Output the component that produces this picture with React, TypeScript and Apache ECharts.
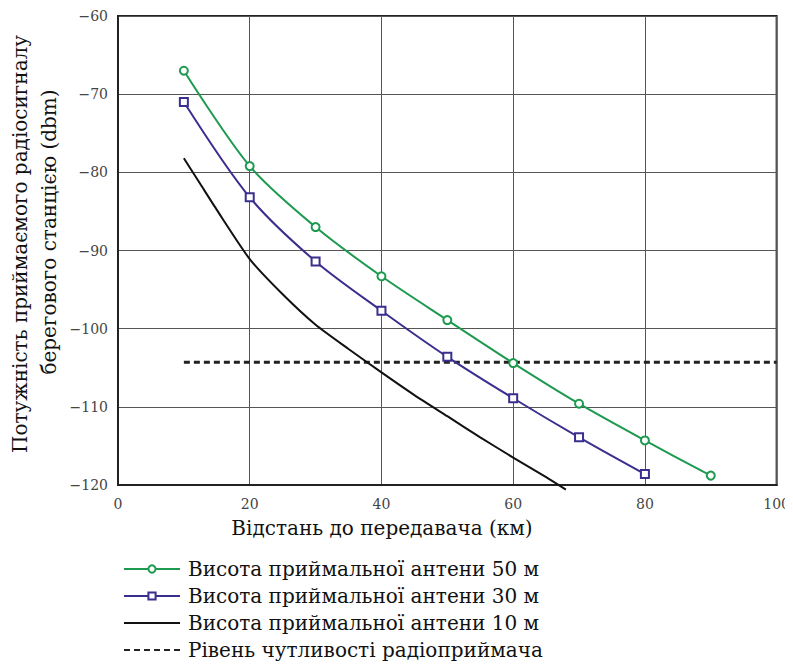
import React, { useEffect, useRef } from "react";
import * as echarts from "echarts";

const FONT = "DejaVu Serif";

const seriesNames = [
  "Висота приймальної антени 50 м",
  "Висота приймальної антени 30 м",
  "Висота приймальної антени 10 м",
  "Рівень чутливості радіоприймача",
];

const dist50 = [10, 20, 30, 40, 50, 60, 70, 80, 90];
const power50 = [-67.0, -79.2, -87.0, -93.3, -98.9, -104.4, -109.6, -114.3, -118.8];

const dist30 = [10, 20, 30, 40, 50, 60, 70, 80];
const power30 = [-71.0, -83.2, -91.4, -97.7, -103.6, -108.9, -113.9, -118.6];

const dist10 = [10, 12.5, 15, 20, 25, 30, 35, 40, 45, 50, 55, 60, 65, 68];
const power10 = [-78.2, -81.5, -84.8, -91.1, -95.6, -99.5, -102.6, -105.6, -108.5, -111.2, -113.9, -116.5, -119.0, -120.6];

const sensDist = [10, 100];
const sensLevel = [-104.3, -104.3];

const xTicks = { min: 0, max: 100, interval: 20 };
const yTicks = { min: -120, max: -60, interval: 10 };

const xTitle = "Відстань до передавача (км)";
const yTitle1 = "Потужність приймаємого радіосигналу";
const yTitle2 = "берегового станцією (dbm)";

const pairs = (xs: number[], ys: number[]) => xs.map((x, i) => [x, ys[i]]);

export default function App() {
  const ref = useRef<HTMLDivElement>(null);
  useEffect(() => {
    if (!ref.current) return;
    const chart = echarts.init(ref.current, undefined, { renderer: "svg" });
    chart.setOption({
      animation: false,
      backgroundColor: "#fff",
      grid: {
        left: 110,
        right: 15,
        top: 8,
        bottom: 179,
        show: true,
        borderColor: "#222",
        borderWidth: 2,
        containLabel: false,
      },
      xAxis: {
        type: "value",
        ...xTicks,
        axisLine: { show: true, lineStyle: { color: "#222", width: 2 } },
        axisTick: { show: false },
        axisLabel: { fontFamily: FONT, fontSize: 14, color: "#444", margin: 12 },
        splitLine: { show: true, lineStyle: { color: "#555", width: 1 } },
      },
      yAxis: {
        type: "value",
        ...yTicks,
        axisLine: { show: true, lineStyle: { color: "#222", width: 2 } },
        axisTick: { show: false },
        axisLabel: {
          fontFamily: FONT,
          fontSize: 14,
          color: "#444",
          margin: 10,
          formatter: (v: number) => String(v).replace("-", "\u2212"),
        },
        splitLine: { show: true, lineStyle: { color: "#555", width: 1 } },
      },
      legend: {
        orient: "vertical",
        left: 110,
        top: 545,
        height: 115,
        itemWidth: 56,
        itemHeight: 9,
        itemGap: 5,
        textStyle: {
          fontFamily: FONT,
          fontSize: 20,
          color: "#111",
          lineHeight: 22,
          padding: [0, 0, 0, 3],
        },
        data: [
          { name: seriesNames[0] },
          { name: seriesNames[1] },
          { name: seriesNames[2], itemStyle: { opacity: 0 } },
          { name: seriesNames[3], itemStyle: { opacity: 0 } },
        ],
      },
      graphic: [
        {
          type: "text",
          x: 12,
          y: 236,
          rotation: Math.PI / 2,
          style: {
            text: yTitle1,
            fontFamily: FONT,
            fontSize: 20,
            fill: "#111",
            textAlign: "center",
            textVerticalAlign: "middle",
          },
        },
        {
          type: "text",
          x: 41,
          y: 224,
          rotation: Math.PI / 2,
          style: {
            text: yTitle2,
            fontFamily: FONT,
            fontSize: 20,
            fill: "#111",
            textAlign: "center",
            textVerticalAlign: "middle",
          },
        },
        {
          type: "text",
          x: 374,
          y: 520,
          style: {
            text: xTitle,
            fontFamily: FONT,
            fontSize: 20,
            fill: "#111",
            textAlign: "center",
            textVerticalAlign: "middle",
          },
        },
      ],
      series: [
        {
          name: seriesNames[0],
          type: "line",
          data: pairs(dist50, power50),
          smooth: 0.3,
          symbol: "emptyCircle",
          symbolSize: 8,
          lineStyle: { color: "#1e9a50", width: 2 },
          itemStyle: { color: "#1e9a50", borderWidth: 2 },
          z: 4,
        },
        {
          name: seriesNames[1],
          type: "line",
          data: pairs(dist30, power30),
          smooth: 0.3,
          symbol: "emptyRect",
          symbolSize: 8,
          lineStyle: { color: "#3a2f8e", width: 2 },
          itemStyle: { color: "#3a2f8e", borderWidth: 2 },
          z: 4,
        },
        {
          name: seriesNames[2],
          type: "line",
          data: pairs(dist10, power10),
          smooth: 0.2,
          symbol: "none",
          clip: false,
          lineStyle: { color: "#111", width: 2 },
          itemStyle: { color: "#444" },
          z: 3,
        },
        {
          name: seriesNames[3],
          type: "line",
          data: pairs(sensDist, sensLevel),
          symbol: "none",
          lineStyle: { color: "#222", width: 3, type: [6, 4] },
          itemStyle: { color: "#222" },
          z: 2,
        },
      ],
    });
    return () => chart.dispose();
  }, []);
  return <div ref={ref} style={{ width: 785, height: 656 }} />;
}
